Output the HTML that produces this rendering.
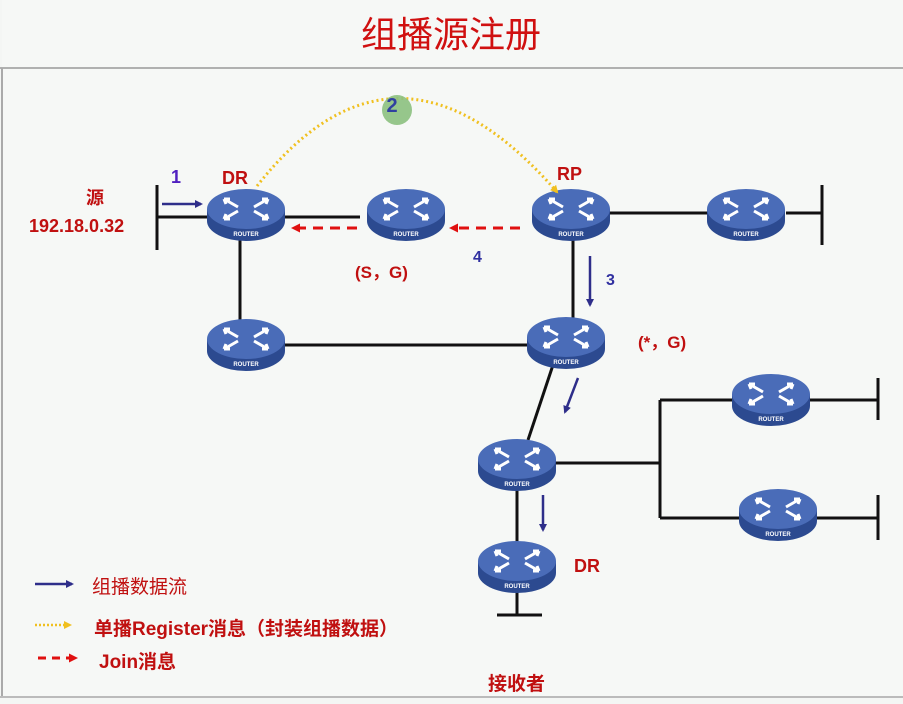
<!DOCTYPE html>
<html><head><meta charset="utf-8"><style>
body{margin:0;background:#f4f6f4;}
svg{display:block;font-family:"Liberation Sans","Noto Sans CJK SC",sans-serif;}
</style></head><body>
<svg width="903" height="704" viewBox="0 0 903 704" xmlns="http://www.w3.org/2000/svg">
<defs>
<marker id="ab" markerWidth="8" markerHeight="8" refX="6" refY="4" orient="auto" markerUnits="userSpaceOnUse"><path d="M0,0 L8,4 L0,8z" fill="#2e2e8a"/></marker>
<marker id="ar" markerWidth="9" markerHeight="9" refX="6" refY="4.5" orient="auto" markerUnits="userSpaceOnUse"><path d="M0,0 L9,4.5 L0,9z" fill="#e01010"/></marker>
<marker id="ay" markerWidth="8" markerHeight="8" refX="6" refY="4" orient="auto" markerUnits="userSpaceOnUse"><path d="M0,0 L8,4 L0,8z" fill="#f0c020"/></marker>
<g id="rt">
<path d="M-39,-6 L-39,6 A39,20 0 0 0 39,6 L39,-6z" fill="#2c4a90"/>
<ellipse cx="0" cy="-6" rx="39" ry="20" fill="#4a6cb8"/>
<g stroke="#fff" stroke-width="3" fill="none">
<path d="M-22,-16 L-8,-8 M-22,-16 l6,0 M-22,-16 l2,5"/>
<path d="M22,-16 L8,-8 M22,-16 l-6,0 M22,-16 l-2,5"/>
<path d="M-22,4 L-8,-4 M-22,4 l6,0 M-22,4 l2,-5"/>
<path d="M22,4 L8,-4 M22,4 l-6,0 M22,4 l-2,-5"/>
</g>
<text x="0" y="21" font-size="6" fill="#fff" text-anchor="middle" font-weight="bold">ROUTER</text>
</g>
</defs>
<rect x="2" y="0" width="901" height="697" fill="#f6f8f6"/>
<line x1="0" y1="68" x2="903" y2="68" stroke="#999" stroke-width="1.5"/>
<line x1="2" y1="68" x2="2" y2="697" stroke="#aaa" stroke-width="2"/>
<line x1="0" y1="697" x2="903" y2="697" stroke="#bbb" stroke-width="2"/>
<text x="451" y="47" font-size="36" fill="#d01010" text-anchor="middle">组播源注册</text>
<g stroke="#111" stroke-width="3" fill="none">
<path d="M157,185 V250 M157,217 H210"/>
<path d="M285,217 H360"/>
<path d="M610,213 H708 M786,213 H822 M822,185 V245"/>
<path d="M240,240 V322"/>
<path d="M285,345 H528"/>
<path d="M573,238 V320"/>
<path d="M553,365 L528,440"/>
<path d="M556,463 H660 M660,400 V518 M660,400 H735 M810,400 H878 M878,378 V420 M660,518 H742 M816,518 H878 M878,495 V540"/>
<path d="M517,488 V542 M517,590 V615 M497,615 H542"/>
</g>
<use href="#rt" x="246" y="215"/>
<use href="#rt" x="406" y="215"/>
<use href="#rt" x="571" y="215"/>
<use href="#rt" x="746" y="215"/>
<use href="#rt" x="246" y="345"/>
<use href="#rt" x="566" y="343"/>
<use href="#rt" x="517" y="465"/>
<use href="#rt" x="517" y="567"/>
<use href="#rt" x="771" y="400"/>
<use href="#rt" x="778" y="515"/>
<path d="M257,186 Q397,8 557,192" stroke="#f0c020" stroke-width="3" stroke-dasharray="2,3" fill="none" marker-end="url(#ay)"/>
<circle cx="397" cy="110" r="15" fill="#8cc080" opacity="0.9"/>
<text x="392" y="112" font-size="20" fill="#3040a0" font-weight="bold" text-anchor="middle">2</text>
<g stroke-width="2.5" fill="none">
<line x1="162" y1="204" x2="201" y2="204" stroke="#2e2e8a" marker-end="url(#ab)"/>
<line x1="590" y1="256" x2="590" y2="305" stroke="#2e2e8a" marker-end="url(#ab)"/>
<line x1="578" y1="378" x2="565" y2="412" stroke="#2e2e8a" marker-end="url(#ab)"/>
<line x1="543" y1="495" x2="543" y2="530" stroke="#2e2e8a" marker-end="url(#ab)"/>
<line x1="357" y1="228" x2="294" y2="228" stroke="#e01010" stroke-width="3" stroke-dasharray="10,7" marker-end="url(#ar)"/>
<line x1="520" y1="228" x2="452" y2="228" stroke="#e01010" stroke-width="3" stroke-dasharray="10,7" marker-end="url(#ar)"/>
<line x1="35" y1="584" x2="72" y2="584" stroke="#2e2e8a" marker-end="url(#ab)"/>
<line x1="35" y1="625" x2="70" y2="625" stroke="#f0c020" stroke-dasharray="2,2" marker-end="url(#ay)"/>
<line x1="38" y1="658" x2="75" y2="658" stroke="#e01010" stroke-width="3" stroke-dasharray="8,6" marker-end="url(#ar)"/>
</g>
<g font-weight="bold" font-size="18">
<text x="171" y="183" fill="#5020c0">1</text>
<text x="222" y="184" fill="#c01010">DR</text>
<text x="557" y="180" fill="#c01010">RP</text>
<text x="473" y="262" fill="#3030a0" font-size="16">4</text>
<text x="606" y="285" fill="#3030a0" font-size="16">3</text>
<text x="86" y="204" fill="#c01010">源</text>
<text x="29" y="232" fill="#c01010">192.18.0.32</text>
<text x="355" y="278" fill="#c01010" font-size="17">(S，G)</text>
<text x="638" y="348" fill="#c01010" font-size="17">(*，G)</text>
<text x="574" y="572" fill="#c01010">DR</text>
<text x="488" y="690" fill="#c01010" font-size="19">接收者</text>
<text x="92" y="593" fill="#c01010" font-size="19" font-weight="normal">组播数据流</text>
<text x="94" y="635" fill="#c01010" font-size="19">单播Register消息（封装组播数据）</text>
<text x="99" y="668" fill="#c01010" font-size="19">Join消息</text>
</g>
</svg>
</body></html>
